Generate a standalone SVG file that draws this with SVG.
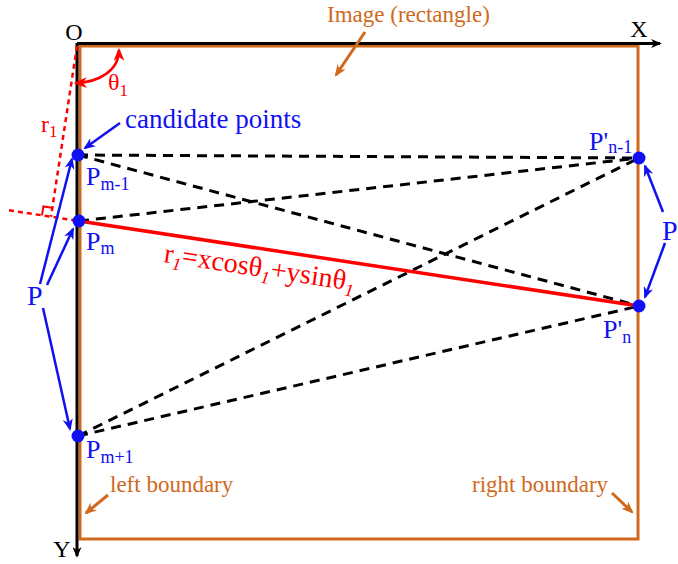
<svg xmlns="http://www.w3.org/2000/svg" width="678" height="564" viewBox="0 0 678 564">
<style>
text{font-family:"Liberation Serif","Times New Roman","DejaVu Serif",serif}
.blue{fill:#1010F0}
.red{fill:#FF0000}
.org{fill:#D0691C}
.blk{fill:#000}
.dash{stroke:#000;stroke-width:3;stroke-dasharray:10 7;fill:none}
.barrow{stroke:#1010F0;stroke-width:2.5;fill:none;marker-end:url(#mb)}
.oarrow{stroke:#D0691C;stroke-width:3;fill:none;marker-end:url(#mo)}
.dot{fill:#1010F0}
</style>
<defs>
<marker id="mb" viewBox="0 0 12 10" refX="10" refY="5" markerWidth="12" markerHeight="10" markerUnits="userSpaceOnUse" orient="auto"><path d="M0,0 L12,5 L0,10 L3.5,5 z" fill="#1010F0"/></marker>
<marker id="mo" viewBox="0 0 12 10" refX="10" refY="5" markerWidth="12" markerHeight="10" markerUnits="userSpaceOnUse" orient="auto"><path d="M0,0 L12,5 L0,10 L3.5,5 z" fill="#D0691C"/></marker>
<marker id="mr" viewBox="0 0 12 10" refX="10" refY="5" markerWidth="13" markerHeight="11" markerUnits="userSpaceOnUse" orient="auto-start-reverse"><path d="M0,0 L12,5 L0,10 L3.5,5 z" fill="#FF0000"/></marker>
<marker id="mk" viewBox="0 0 12 10" refX="10" refY="5" markerWidth="12" markerHeight="9" markerUnits="userSpaceOnUse" orient="auto"><path d="M0,0 L12,5 L0,10 L3.5,5 z" fill="#000"/></marker>
</defs>

<g id="image-rect">
<rect x="80" y="46" width="558" height="493" fill="none" stroke="#D0691C" stroke-width="3"/>
</g>

<g id="axes">
<line x1="77" y1="43.5" x2="660" y2="43.5" stroke="#000" stroke-width="3" marker-end="url(#mk)"/>
<line x1="77" y1="43" x2="77" y2="556" stroke="#000" stroke-width="3" marker-end="url(#mk)"/>
<text class="blk" x="74" y="40" font-size="24" text-anchor="middle">O</text>
<text class="blk" x="639" y="37" font-size="24" text-anchor="middle">X</text>
<text class="blk" x="62" y="557" font-size="24" text-anchor="middle">Y</text>
</g>

<g id="connectors">
<line class="dash" x1="78" y1="155" x2="639" y2="158"/>
<line class="dash" x1="78" y1="155" x2="639" y2="306"/>
<line class="dash" x1="79" y1="221" x2="639" y2="158"/>
<line class="dash" x1="78" y1="436" x2="639" y2="158"/>
<line class="dash" x1="78" y1="436" x2="639" y2="306"/>
<line x1="79" y1="221" x2="639" y2="306" stroke="#FF0000" stroke-width="3.5"/>
<line x1="77" y1="46" x2="51" y2="216.7" stroke="#FF0000" stroke-width="2.5" stroke-dasharray="5 4"/>
<line x1="9" y1="210.3" x2="79" y2="221" stroke="#FF0000" stroke-width="2.5" stroke-dasharray="5 4"/>
<polyline points="42,215.35 43.35,206.45 52.25,207.8" fill="none" stroke="#FF0000" stroke-width="2"/>
<path d="M119,50 C119,70 100,82 76,83" fill="none" stroke="#FF0000" stroke-width="2.5" marker-start="url(#mr)" marker-end="url(#mr)"/>
<line class="barrow" x1="120" y1="123" x2="85" y2="148"/>
<line class="barrow" x1="40" y1="284" x2="72" y2="159"/>
<line class="barrow" x1="47" y1="285" x2="73" y2="229"/>
<line class="barrow" x1="43" y1="308" x2="70" y2="429"/>
<line class="barrow" x1="663" y1="212" x2="645" y2="166"/>
<line class="barrow" x1="665" y1="243" x2="645" y2="297"/>
<line class="oarrow" x1="365" y1="32" x2="336" y2="75"/>
<line class="oarrow" x1="108" y1="495" x2="86" y2="513"/>
<line class="oarrow" x1="612" y1="493" x2="632" y2="512"/>
</g>

<g id="labels-red">
<text class="red" x="108" y="90" font-size="24">θ<tspan font-size="17" dy="6">1</tspan></text>
<text class="red" x="41" y="132" font-size="24">r<tspan font-size="17" dy="5">1</tspan></text>
<text class="red" x="163" y="262" font-size="28" transform="rotate(8.6 163 262)">r<tspan font-size="18" dy="6" font-style="italic">1</tspan><tspan dy="-6">=xcosθ</tspan><tspan font-size="18" dy="6" font-style="italic">1</tspan><tspan dy="-6">+ysinθ</tspan><tspan font-size="18" dy="6" font-style="italic">1</tspan></text>
</g>

<g id="node-pm-1">
<circle class="dot" cx="78" cy="155" r="6.5"/>
<text class="blue" x="86" y="185" font-size="26">P<tspan font-size="18" dy="5">m-1</tspan></text>
</g>
<g id="node-pm">
<circle class="dot" cx="79" cy="221" r="6.5"/>
<text class="blue" x="86" y="250" font-size="26">P<tspan font-size="18" dy="4">m</tspan></text>
</g>
<g id="node-pm+1">
<circle class="dot" cx="78" cy="436" r="6.5"/>
<text class="blue" x="86" y="458" font-size="26">P<tspan font-size="18" dy="5">m+1</tspan></text>
</g>
<g id="node-pn-1">
<circle class="dot" cx="639" cy="158" r="6.5"/>
<text class="blue" x="589" y="150" font-size="26">P'<tspan font-size="18" dy="3">n-1</tspan></text>
</g>
<g id="node-pn">
<circle class="dot" cx="639" cy="306" r="6.5"/>
<text class="blue" x="603" y="338" font-size="26">P'<tspan font-size="18" dy="5">n</tspan></text>
</g>

<g id="labels-blue">
<text class="blue" x="125" y="128" font-size="27">candidate points</text>
<text class="blue" x="27" y="305" font-size="28">P</text>
<text class="blue" x="662" y="240" font-size="28">P</text>
</g>

<g id="labels-orange">
<text class="org" x="327" y="22" font-size="23">Image (rectangle)</text>
<text class="org" x="110" y="492" font-size="23">left boundary</text>
<text class="org" x="472" y="492" font-size="23">right boundary</text>
</g>
</svg>
